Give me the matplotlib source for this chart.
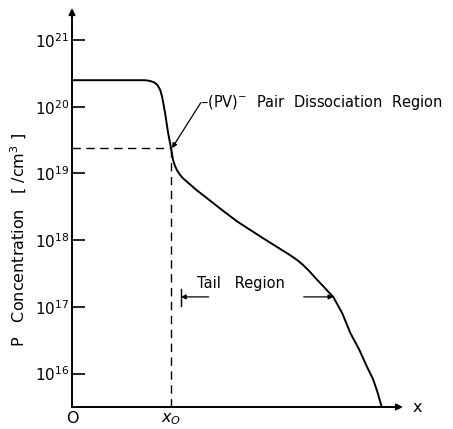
#!/usr/bin/env python3
"""
P 扩散分布示意图：平台区、(PV)- 对离解区与尾部区。
"""

import matplotlib

matplotlib.use("Agg")
import matplotlib.pyplot as plt
from matplotlib.ticker import NullLocator

plt.rcParams["font.family"] = ["DejaVu Sans"]
plt.rcParams["mathtext.fontset"] = "dejavusans"

# depth in units of x0, concentration in /cm^3
depth = [0.0, 0.40, 0.72, 0.76, 0.79, 0.83, 0.86, 0.89, 0.91, 0.94, 0.97,
         1.00, 1.02, 1.04, 1.06, 1.09, 1.12, 1.19, 1.26, 1.36, 1.52, 1.67,
         1.93, 2.20, 2.27, 2.33, 2.40, 2.47, 2.55, 2.64, 2.73, 2.81, 2.90,
         2.98, 3.04, 3.08, 3.13]
conc = [2.5e20, 2.5e20, 2.5e20, 2.48e20, 2.43e20, 2.32e20, 2.14e20, 1.8e20,
        1.41e20, 8.1e19, 4.1e19, 2.4e19, 1.6e19, 1.3e19, 1.12e19, 9.6e18,
        8.5e18, 6.9e18, 5.6e18, 4.3e18, 2.8e18, 1.9e18, 1.07e18, 6.0e17,
        5.1e17, 4.3e17, 3.4e17, 2.6e17, 1.95e17, 1.4e17, 8.0e16, 4.1e16,
        2.3e16, 1.26e16, 8.3e15, 5.6e15, 3.1e15]

x0 = 1.0
c_x0 = 2.4e19
yticks = [1e16, 1e17, 1e18, 1e19, 1e20, 1e21]
ytick_labels = ["$10^{16}$", "$10^{17}$", "$10^{18}$", "$10^{19}$", "$10^{20}$", "$10^{21}$"]
xticks = [0.0, x0]
xtick_labels = ["O", "$x_O$"]

fig = plt.figure(figsize=(4.53, 4.29), dpi=100)
ax = fig.add_axes([72 / 453, 22 / 429, (403 - 72) / 453, (421 - 22) / 429])
ax.set_yscale("log")
ax.set_xlim(0, 3.343)
ax.set_ylim(10 ** 15.5, 10 ** 21.48)

for side in ("top", "right", "left", "bottom"):
    ax.spines[side].set_visible(False)

# axes drawn as arrows
arrow = dict(arrowstyle="-|>", color="black", lw=1.4, mutation_scale=9, shrinkA=0, shrinkB=0)
ax.annotate("", xy=(0, 1), xytext=(0, 0), xycoords="axes fraction", arrowprops=arrow)
ax.annotate("", xy=(1, 0), xytext=(0, 0), xycoords="axes fraction", arrowprops=arrow)

ax.set_yticks(yticks)
ax.set_yticklabels(ytick_labels)
ax.yaxis.set_minor_locator(NullLocator())
ax.tick_params(axis="y", direction="in", length=9, width=1.2, labelsize=11, pad=2)
ax.set_xticks(xticks)
ax.set_xticklabels(xtick_labels)
ax.tick_params(axis="x", length=0, labelsize=11.5, pad=3)

ax.set_ylabel("P   Concentration   [ /cm$^3$ ]", fontsize=11.5)
ax.yaxis.set_label_coords(-0.13, 0.42)
ax.text(1.03, 0.0, "x", transform=ax.transAxes, fontsize=11.5, va="center", ha="left")

ax.plot(depth, conc, color="black", lw=1.4, solid_capstyle="round", solid_joinstyle="round")

# x0 guide lines
dash = (0, (6, 4))
ax.hlines(c_x0, 0, x0, colors="black", lw=1.0, linestyles=[dash])
ax.vlines(x0, ax.get_ylim()[0], c_x0, colors="black", lw=1.0, linestyles=[dash])

small = dict(arrowstyle="-|>", color="black", lw=0.9, mutation_scale=7, shrinkA=0, shrinkB=0)
ax.annotate("", xy=(x0 + 0.01, c_x0), xytext=(1.30, 10 ** 20.06), arrowprops=small)
ax.text(1.29, 10 ** 20.06, "–(PV)$^{-}$  Pair  Dissociation  Region", fontsize=10.5, va="center", ha="left")

ax.text(1.26, 10 ** 17.35, "Tail   Region", fontsize=10.5, va="center", ha="left")
ax.annotate("", xy=(1.10, 10 ** 17.15), xytext=(1.38, 10 ** 17.15), arrowprops=small)
ax.plot([1.10, 1.10], [10 ** 17.02, 10 ** 17.27], color="black", lw=1.0)
ax.annotate("", xy=(2.64, 10 ** 17.15), xytext=(2.34, 10 ** 17.15), arrowprops=small)

fig.savefig("out.png", dpi=100)
